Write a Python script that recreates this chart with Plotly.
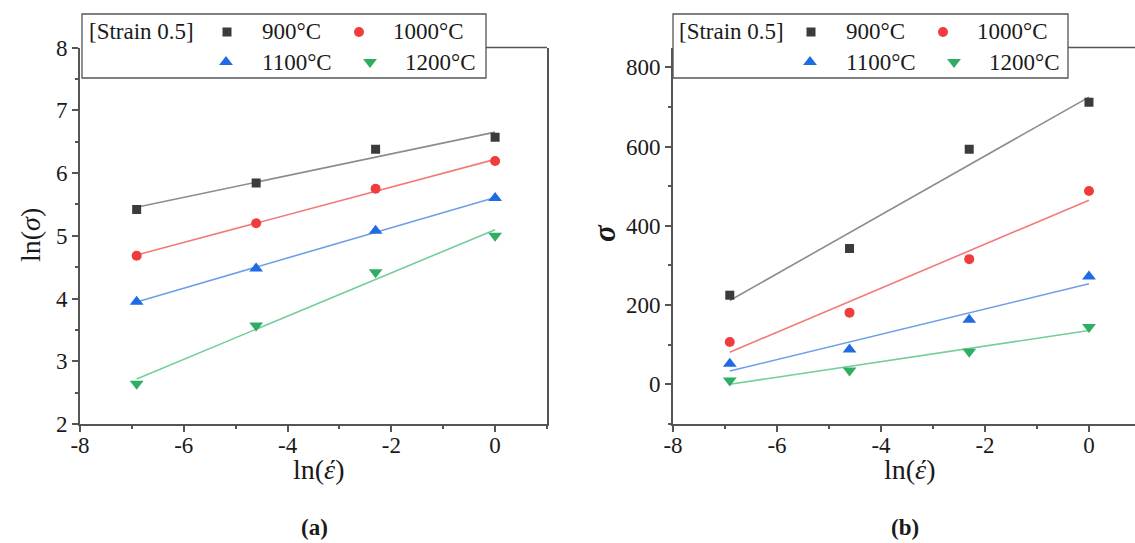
import numpy as np
import plotly.graph_objects as go

W, H = 1135, 543

# ---- data ----
ln_rate = [-6.908, -4.605, -2.303, 0.0]          # ln(strain rate) for 0.001, 0.01, 0.1, 1 /s
temps = ["900°C", "1000°C", "1100°C", "1200°C"]

ln_sigma_900 = [5.42, 5.84, 6.38, 6.57]
ln_sigma_1000 = [4.68, 5.20, 5.75, 6.19]
ln_sigma_1100 = [3.95, 4.48, 5.08, 5.60]
ln_sigma_1200 = [2.64, 3.57, 4.42, 5.00]

sigma_900 = [225, 343, 593, 712]
sigma_1000 = [107, 181, 316, 488]
sigma_1100 = [52, 88, 163, 272]
sigma_1200 = [10, 35, 82, 145]

x_tickvals = [-8, -6, -4, -2, 0]
x_ticktext = ["-8", "-6", "-4", "-2", "0"]
a_tickvals = [2, 3, 4, 5, 6, 7, 8]
b_tickvals = [0, 200, 400, 600, 800]

a_series = [ln_sigma_900, ln_sigma_1000, ln_sigma_1100, ln_sigma_1200]
b_series = [sigma_900, sigma_1000, sigma_1100, sigma_1200]

marker_colors = ["#3b3b3b", "#f03c3c", "#1f6be3", "#2fad63"]
line_colors = ["#8c8c8c", "#f27a7a", "#6d9fe9", "#72cf9a"]
symbols = ["square", "circle", "triangle-up", "triangle-down"]
msizes = [9, 10, 12, 12]

FONT = "Liberation Serif"
AX = "#555555"
TXT = "#1a1a1a"

def px_x(p):
    return p / W

def px_y(p):
    return 1 - p / H

fig = go.Figure()

for series, xa, ya in [(a_series, "x", "y"), (b_series, "x2", "y2")]:
    for i, vals in enumerate(series):
        k, c = np.polyfit(ln_rate, vals, 1)
        xs = [ln_rate[0], ln_rate[-1]]
        fig.add_trace(go.Scatter(
            x=xs, y=[k * xs[0] + c, k * xs[1] + c], mode="lines",
            line=dict(color=line_colors[i], width=1.6),
            xaxis=xa, yaxis=ya, showlegend=False, hoverinfo="skip"))
    for i, vals in enumerate(series):
        fig.add_trace(go.Scatter(
            x=ln_rate, y=vals, mode="markers", name=temps[i],
            marker=dict(symbol=symbols[i], size=msizes[i], color=marker_colors[i],
                        line=dict(width=0)),
            xaxis=xa, yaxis=ya, showlegend=False))

# ---- legend boxes (drawn by hand: title + 2x2 entries) ----
PLOT_TOP, PLOT_BOT = 47.5, 424
legends = [
    dict(left=82, right=486, title_x=87, shift=0, plot_right=547),
    dict(left=673, right=1068, title_x=677, shift=584, plot_right=W),
]
LEG_TOP, LEG_BOT = 14, 78
ROW_Y = [32, 62]
entry_sym_x = [227, 359, 226, 370]
entry_txt_x = [260, 391, 260, 403]
entry_row = [0, 0, 1, 1]

shapes = []
annos = []
for lg in legends:
    shapes.append(dict(type="rect", xref="paper", yref="paper",
                       x0=px_x(lg["left"]), x1=px_x(lg["right"]),
                       y0=px_y(LEG_BOT), y1=px_y(LEG_TOP),
                       line=dict(color=AX, width=1.3), fillcolor="rgba(0,0,0,0)",
                       layer="above"))
    shapes.append(dict(type="line", xref="paper", yref="paper",
                       x0=px_x(lg["right"]), x1=px_x(lg["plot_right"]),
                       y0=px_y(PLOT_TOP), y1=px_y(PLOT_TOP),
                       line=dict(color=AX, width=1.6), layer="above"))
    annos.append(dict(text="[Strain 0.5]", x=px_x(lg["title_x"]), y=px_y(ROW_Y[0]),
                      xanchor="left", font=dict(size=23)))
    for j in range(4):
        annos.append(dict(text=temps[j], x=px_x(entry_txt_x[j] + lg["shift"]),
                          y=px_y(ROW_Y[entry_row[j]]), xanchor="left", font=dict(size=23)))
        fig.add_trace(go.Scatter(
            x=[entry_sym_x[j] + lg["shift"]], y=[ROW_Y[entry_row[j]]], mode="markers",
            marker=dict(symbol=symbols[j], size=msizes[j], color=marker_colors[j],
                        line=dict(width=0)),
            xaxis="x3", yaxis="y3", showlegend=False, hoverinfo="skip", cliponaxis=False))

y_dom = [px_y(PLOT_BOT), px_y(PLOT_TOP)]

def xaxis_cfg(dom, rng, anchor):
    return dict(domain=dom, range=rng, anchor=anchor, automargin=False,
                tickmode="array", tickvals=x_tickvals, ticktext=x_ticktext,
                showline=True, linecolor=AX, linewidth=1.6, mirror=False,
                ticks="outside", ticklen=6, tickwidth=1.5, tickcolor=AX,
                ticklabelstandoff=-6,
                minor=dict(dtick=1, tick0=-8, ticks="outside", ticklen=3, tickwidth=1.5,
                           tickcolor=AX),
                showgrid=False, zeroline=False,
                tickfont=dict(family=FONT, size=23, color=TXT))

def yaxis_cfg(anchor, rng, tv, mdt, mirror):
    return dict(domain=y_dom, range=rng, anchor=anchor, automargin=False,
                tickmode="array", tickvals=tv, ticktext=[str(v) for v in tv],
                showline=True, linecolor=AX, linewidth=1.6, mirror=mirror,
                ticks="outside", ticklen=6, tickwidth=1.5, tickcolor=AX,
                minor=dict(dtick=mdt, tick0=0, ticks="outside", ticklen=3, tickwidth=1.5,
                           tickcolor=AX),
                showgrid=False, zeroline=False,
                tickfont=dict(family=FONT, size=23, color=TXT))

fig.update_layout(
    template="none",
    width=W, height=H,
    margin=dict(l=0, r=0, t=0, b=0, pad=0, autoexpand=False),
    paper_bgcolor="white", plot_bgcolor="rgba(0,0,0,0)",
    showlegend=False,
    xaxis=xaxis_cfg([px_x(80), px_x(547)], [-8, 1], "y"),
    yaxis=yaxis_cfg("x", [2, 8], a_tickvals, 0.5, True),
    xaxis2=xaxis_cfg([px_x(673), 1.0], [-8, 0.885], "y2"),
    yaxis2=yaxis_cfg("x2", [-100, 850], b_tickvals, 100, False),
    xaxis3=dict(domain=[0, 1], range=[0, W], visible=False, anchor="y3",
                fixedrange=True, automargin=False),
    yaxis3=dict(domain=[0, 1], range=[H, 0], visible=False, anchor="x3",
                fixedrange=True, automargin=False),
    shapes=shapes,
)

annos += [
    dict(text="ln(<i>σ</i>)", x=px_x(30), y=px_y(235), textangle=-90, font=dict(size=28)),
    dict(text="<i><b>σ</b></i>", x=px_x(604), y=px_y(233), textangle=-90, font=dict(size=31)),
    dict(text="ln(<i>έ</i>)", x=px_x(318), y=px_y(469), font=dict(size=28)),
    dict(text="ln(<i>έ</i>)", x=px_x(909), y=px_y(469), font=dict(size=28)),
    dict(text="<b>(a)</b>", x=px_x(314), y=px_y(527), font=dict(size=23)),
    dict(text="<b>(b)</b>", x=px_x(905), y=px_y(527), font=dict(size=23)),
]
for a in annos:
    f = dict(family=FONT, color=TXT)
    f.update(a.pop("font"))
    a.setdefault("xanchor", "center")
    fig.add_annotation(xref="paper", yref="paper", showarrow=False,
                       yanchor="middle", font=f, **a)

fig.write_html("out.html", config={"displayModeBar": False},
               post_script="document.body.style.margin='0';document.body.style.overflow='hidden';")
